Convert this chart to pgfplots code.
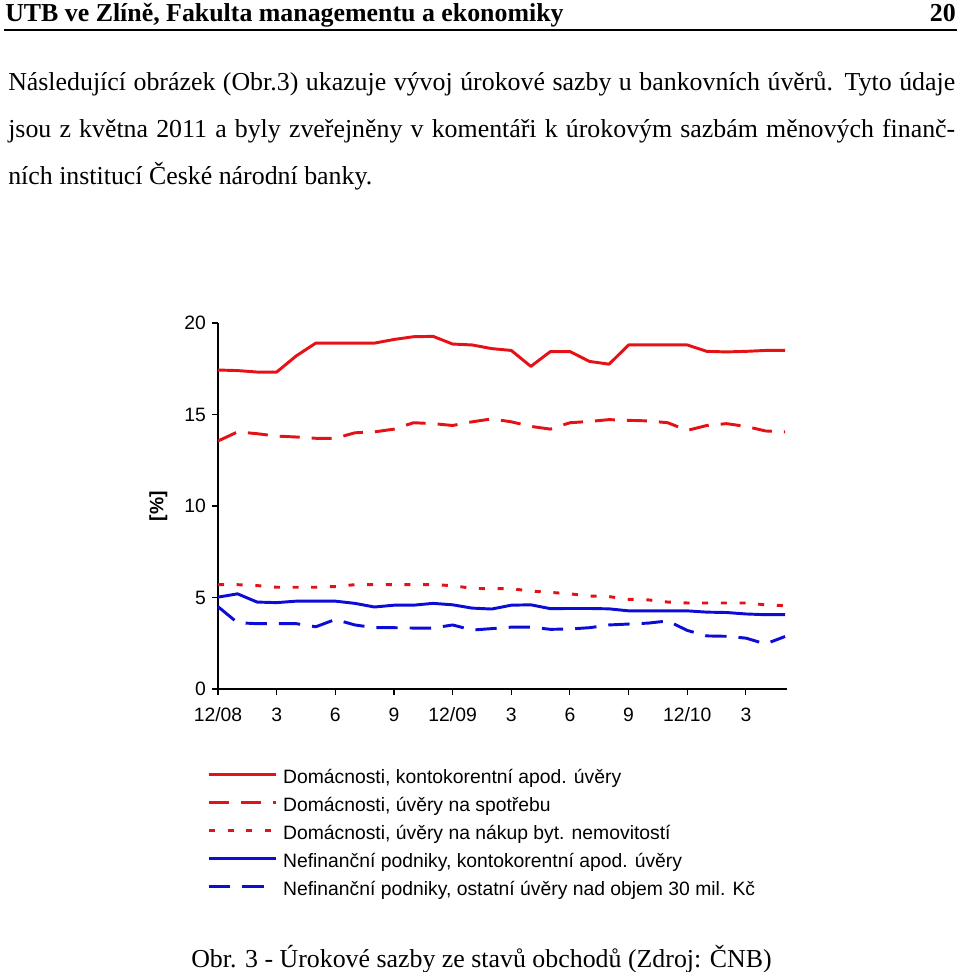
\documentclass[border=0pt]{standalone}
\usepackage{fontspec}
\setmainfont{Liberation Serif}
\newfontfamily\chartfont{Liberation Sans}
\usepackage{pgfplots}
\usepackage{pgfplotstable}
\pgfplotsset{compat=1.18}
\definecolor{cnbred}{RGB}{228,18,22}
\definecolor{cnbblue}{RGB}{12,12,214}

% m = months since 12/2008
\pgfplotstableread{
m  rs    rd    rp   bs   bd
0  17.43 13.55 5.70 5.02 4.50
1  17.40 14.05 5.70 5.20 3.62
2  17.32 13.95 5.65 4.75 3.57
3  17.32 13.82 5.56 4.72 3.57
4  18.20 13.77 5.56 4.80 3.57
5  18.90 13.70 5.56 4.80 3.40
6  18.90 13.70 5.60 4.80 3.80
7  18.90 14.00 5.70 4.68 3.50
8  18.90 14.05 5.70 4.48 3.35
9  19.10 14.20 5.70 4.58 3.35
10 19.25 14.55 5.70 4.58 3.33
11 19.27 14.50 5.70 4.68 3.33
12 18.85 14.40 5.65 4.60 3.50
13 18.80 14.60 5.50 4.42 3.22
14 18.60 14.76 5.48 4.37 3.30
15 18.50 14.60 5.48 4.58 3.38
16 17.63 14.35 5.35 4.60 3.38
17 18.44 14.20 5.28 4.39 3.26
18 18.44 14.55 5.20 4.40 3.28
19 17.90 14.62 5.08 4.40 3.35
20 17.75 14.72 5.05 4.38 3.50
21 18.80 14.68 4.90 4.27 3.55
22 18.80 14.65 4.87 4.27 3.60
23 18.80 14.55 4.75 4.27 3.72
24 18.80 14.13 4.70 4.27 3.20
25 18.45 14.40 4.70 4.20 2.90
26 18.42 14.50 4.70 4.18 2.88
27 18.45 14.35 4.70 4.10 2.78
28 18.50 14.10 4.60 4.06 2.46
29 18.50 14.05 4.55 4.06 2.87
}\rates

\begin{document}
\begin{tikzpicture}[x=0.75pt,y=0.75pt]
\useasboundingbox (0,0) rectangle (960,972);

% page header
\node[anchor=base west,inner sep=0,font=\bfseries\fontsize{19.4}{22}\selectfont] at (5,950) {UTB ve Zlíně, Fakulta managementu a ekonomiky};
\node[anchor=base east,inner sep=0,font=\bfseries\fontsize{19.4}{22}\selectfont] at (956,950) {20};
\draw[line width=1.1pt] (4,942) -- (957,942);

% paragraph
\begin{scope}[every node/.style={anchor=base west,inner sep=0,font=\fontsize{19.4}{22}\selectfont}]
\node at (8,881) {\makebox[710.25pt][s]{Následující obrázek (Obr.3) ukazuje vývoj úrokové sazby u bankovních úvěrů. Tyto údaje}};
\node at (8,834) {\makebox[710.25pt][s]{jsou z května 2011 a byly zveřejněny v komentáři k úrokovým sazbám měnových finanč-}};
\node at (8,787) {ních institucí České národní banky.};
\end{scope}

\begin{axis}[
    at={(163.5pt,212.25pt)}, anchor=south west,
    scale only axis, width=426.75pt, height=274.5pt,
    xmin=0, xmax=29.1, ymin=0, ymax=20,
    axis lines=left, axis line style={-, line width=0.8pt},
    xtick={0,3,...,27},
    xticklabels={12/08,3,6,9,12/09,3,6,9,12/10,3},
    ytick={0,5,10,15,20},
    tick style={black, line width=0.8pt},
    tick align=outside, major tick length=4.5pt,
    /pgf/number format/assume math mode=true,
    tick label style={font=\chartfont\fontsize{14.5}{16}\selectfont},
    xticklabel style={yshift=-6pt},
    yticklabel style={xshift=-1pt},
    ylabel={\textbf{[\%]}},
    every axis y label/.style={at={(axis description cs:-0.105,0.5)}, rotate=90, anchor=center, font=\chartfont\fontsize{14.5}{16}\selectfont},
    clip=false,
    legend cell align=left,
    legend style={at={(-0.026,-0.212)}, anchor=north west, draw=none, fill=none,
        font=\chartfont\fontsize{14.5}{16}\selectfont, row sep=7.5pt,
        nodes={inner sep=0pt, text height=10.5pt, text depth=3pt},
        /tikz/every odd column/.style={column sep=4.5pt}},
    legend image code/.code={\draw[#1] (0pt,2.8pt) -- (50pt,2.8pt);},
    every axis plot/.append style={line width=2.2pt, line join=round},
]
\addplot[cnbred, solid] table[x=m, y=rs] {\rates};
\addlegendentry{Domácnosti, kontokorentní apod. úvěry}
\addplot[cnbred, dash pattern=on 15pt off 9pt] table[x=m, y=rd] {\rates};
\addlegendentry{Domácnosti, úvěry na spotřebu}
\addplot[cnbred, dash pattern=on 4.5pt off 9.5pt] table[x=m, y=rp] {\rates};
\addlegendentry{Domácnosti, úvěry na nákup byt. nemovitostí}
\addplot[cnbblue, solid] table[x=m, y=bs] {\rates};
\addlegendentry{Nefinanční podniky, kontokorentní apod. úvěry}
\addplot[cnbblue, dash pattern=on 16pt off 9pt] table[x=m, y=bd] {\rates};
\addlegendentry{Nefinanční podniky, ostatní úvěry nad objem 30 mil. Kč}
\end{axis}

% caption
\node[anchor=base,inner sep=0,font=\fontsize{19.4}{22}\selectfont] at (481.5,5) {Obr. 3 - Úrokové sazby ze stavů obchodů (Zdroj: ČNB)};
\end{tikzpicture}
\end{document}
